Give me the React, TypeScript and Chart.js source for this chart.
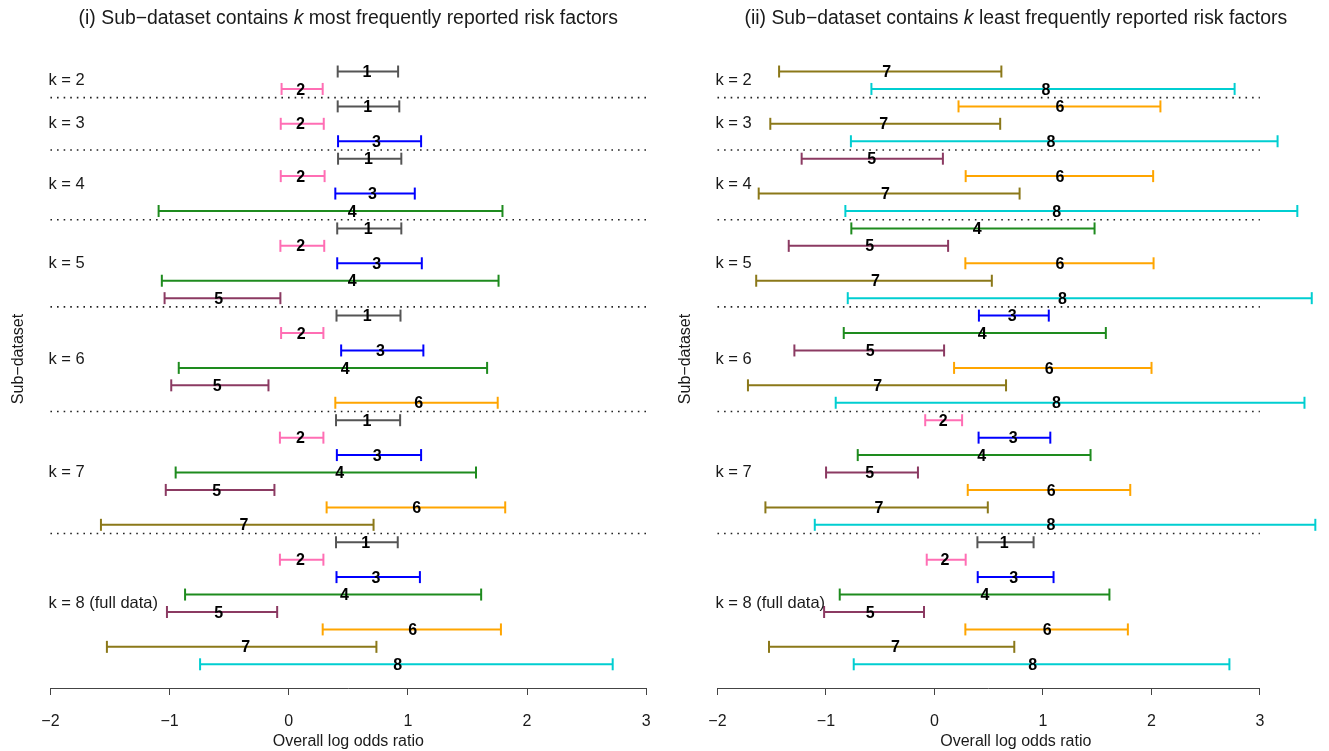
import React, { useEffect, useRef } from "react";
import { Chart, registerables } from "chart.js";

Chart.register(...registerables);

const FONT = '"Liberation Sans", Arial, Helvetica, sans-serif';

// ---------- data ----------
const groupSizes = [2, 3, 4, 5, 6, 7, 8];
const groupLabels = ["k = 2", "k = 3", "k = 4", "k = 5", "k = 6", "k = 7", "k = 8 (full data)"];
const xTicks = [-2, -1, 0, 1, 2, 3];

const factorColors: Record<number, string> = {
  1: "#555555",
  2: "#FF6EB4",
  3: "#0000FF",
  4: "#1E8B1E",
  5: "#8B3A62",
  6: "#FFA500",
  7: "#8B7819",
  8: "#00CED1",
};

// Panel (i): k most frequently reported risk factors
const mostFactor = [
  1, 2,
  1, 2, 3,
  1, 2, 3, 4,
  1, 2, 3, 4, 5,
  1, 2, 3, 4, 5, 6,
  1, 2, 3, 4, 5, 6, 7,
  1, 2, 3, 4, 5, 6, 7, 8,
];
const mostLow = [
  0.411, -0.060,
  0.411, -0.067, 0.414,
  0.414, -0.067, 0.391, -1.092,
  0.407, -0.070, 0.407, -1.065, -1.042,
  0.401, -0.064, 0.440, -0.923, -0.986, 0.391,
  0.397, -0.074, 0.404, -0.949, -1.032, 0.318, -1.576,
  0.397, -0.074, 0.401, -0.870, -1.022, 0.285, -1.526, -0.744,
];
const mostEst = [
  0.656, 0.101,
  0.663, 0.098, 0.736,
  0.669, 0.101, 0.703, 0.533,
  0.666, 0.101, 0.739, 0.533, -0.588,
  0.659, 0.105, 0.769, 0.474, -0.601, 1.091,
  0.656, 0.098, 0.742, 0.427, -0.604, 1.074, -0.375,
  0.646, 0.098, 0.732, 0.467, -0.588, 1.041, -0.362, 0.915,
];
const mostHigh = [
  0.918, 0.285,
  0.928, 0.294, 1.111,
  0.945, 0.301, 1.058, 1.794,
  0.945, 0.298, 1.117, 1.761, -0.070,
  0.938, 0.291, 1.130, 1.665, -0.170, 1.754,
  0.935, 0.291, 1.111, 1.572, -0.120, 1.817, 0.712,
  0.915, 0.291, 1.101, 1.615, -0.097, 1.781, 0.736, 2.719,
];

// Panel (ii): k least frequently reported risk factors
const leastFactor = [
  7, 8,
  6, 7, 8,
  5, 6, 7, 8,
  4, 5, 6, 7, 8,
  3, 4, 5, 6, 7, 8,
  2, 3, 4, 5, 6, 7, 8,
  1, 2, 3, 4, 5, 6, 7, 8,
];
const leastLow = [
  -1.432, -0.581,
  0.222, -1.513, -0.770,
  -1.224, 0.288, -1.620, -0.821,
  -0.766, -1.343, 0.285, -1.643, -0.799,
  0.410, -0.836, -1.291, 0.181, -1.719, -0.910,
  -0.085, 0.407, -0.707, -0.999, 0.307, -1.558, -1.103,
  0.396, -0.071, 0.399, -0.873, -1.017, 0.285, -1.525, -0.744,
];
const leastEst = [
  -0.441, 1.028,
  1.158, -0.467, 1.073,
  -0.578, 1.158, -0.452, 1.128,
  0.395, -0.596, 1.158, -0.544, 1.180,
  0.717, 0.440, -0.592, 1.058, -0.522, 1.124,
  0.081, 0.725, 0.436, -0.596, 1.076, -0.511, 1.073,
  0.643, 0.096, 0.731, 0.466, -0.592, 1.039, -0.359, 0.906,
];
const leastHigh = [
  0.617, 2.767,
  2.083, 0.606, 3.163,
  0.078, 2.016, 0.785, 3.345,
  1.476, 0.126, 2.020, 0.529, 3.478,
  1.054, 1.580, 0.089, 2.001, 0.660, 3.411,
  0.255, 1.068, 1.439, -0.152, 1.805, 0.492, 3.511,
  0.914, 0.288, 1.098, 1.613, -0.096, 1.783, 0.736, 2.719,
];

// ---------- helpers ----------
type Panel = {
  factors: number[];
  low: number[];
  est: number[];
  high: number[];
  titleA: string;
  titleB: string;
  xMin: number;
  xMax: number;
  padLeft: number;
  yTitleX: number;
};

const fmtTick = (v: number) => (v < 0 ? "\u2212" + Math.abs(v) : String(v));

function groupInfo() {
  const out: { start: number; end: number }[] = [];
  let s = 0;
  groupSizes.forEach((n) => {
    out.push({ start: s, end: s + n - 1 });
    s += n;
  });
  return out;
}

function makePlugin(p: Panel) {
  return {
    id: "annot",
    afterDatasetsDraw(chart: any) {
      const { ctx, chartArea } = chart;
      const x = chart.scales.x;
      const y = chart.scales.y;
      ctx.save();
      // axis line between first and last ticks
      ctx.strokeStyle = "#444";
      ctx.lineWidth = 1;
      const yb = Math.round(chartArea.bottom) + 0.5;
      ctx.beginPath();
      ctx.moveTo(x.getPixelForValue(xTicks[0]), yb);
      ctx.lineTo(x.getPixelForValue(xTicks[xTicks.length - 1]), yb);
      ctx.stroke();

      // factor numbers at estimates
      ctx.font = `bold 16px ${FONT}`;
      ctx.fillStyle = "#000";
      ctx.textAlign = "center";
      ctx.textBaseline = "middle";
      p.factors.forEach((f, i) => {
        ctx.fillText(String(f), x.getPixelForValue(p.est[i]), y.getPixelForValue(i) + 1.2);
      });

      // group labels
      ctx.font = `16.5px ${FONT}`;
      ctx.fillStyle = "#1a1a1a";
      ctx.textAlign = "left";
      groupInfo().forEach((g, gi) => {
        ctx.fillText(groupLabels[gi], x.getPixelForValue(-2) - 2, y.getPixelForValue((g.start + g.end) / 2));
      });

      // main title with italic k
      const cx = (chartArea.left + chartArea.right) / 2;
      const normal = `19.4px ${FONT}`;
      const ital = `italic 19.4px ${FONT}`;
      ctx.font = normal;
      const wA = ctx.measureText(p.titleA).width;
      const wB = ctx.measureText(p.titleB).width;
      ctx.font = ital;
      const wK = ctx.measureText("k").width;
      const total = wA + wK + wB;
      let tx = cx - total / 2;
      const ty = 19;
      ctx.fillStyle = "#1a1a1a";
      ctx.font = normal;
      ctx.fillText(p.titleA, tx, ty);
      tx += wA;
      ctx.font = ital;
      ctx.fillText("k", tx, ty);
      tx += wK;
      ctx.font = normal;
      ctx.fillText(p.titleB, tx, ty);

      // y-axis title
      ctx.font = `16px ${FONT}`;
      ctx.textAlign = "center";
      ctx.translate(p.yTitleX, 359);
      ctx.rotate(-Math.PI / 2);
      ctx.fillText("Sub\u2212dataset", 0, 0);
      ctx.restore();
    },
  };
}

function makeConfig(p: Panel): any {
  const datasets: any[] = [];
  const groups = groupInfo();
  groups.slice(0, groups.length - 1).forEach((g) => {
    const yy = g.end + 0.5;
    datasets.push({
      data: [
        { x: xTicks[0], y: yy },
        { x: xTicks[xTicks.length - 1], y: yy },
      ],
      showLine: true,
      borderColor: "#222",
      borderWidth: 1.6,
      borderDash: [1.6, 5],
      pointRadius: 0,
      pointHoverRadius: 0,
      fill: false,
    });
  });
  p.factors.forEach((f, i) => {
    const c = factorColors[f];
    datasets.push({
      data: [
        { x: p.low[i], y: i },
        { x: p.high[i], y: i },
      ],
      showLine: true,
      borderColor: c,
      borderWidth: 2,
      pointStyle: "line",
      rotation: 90,
      pointRadius: 6,
      pointHoverRadius: 6,
      pointBorderColor: c,
      pointBackgroundColor: c,
      pointBorderWidth: 2,
      fill: false,
      clip: false,
    });
  });
  const nRows = p.factors.length;
  const pad = (nRows - 1) * 0.04;
  return {
    type: "scatter",
    data: { datasets },
    options: {
      animation: false,
      responsive: false,
      events: [],
      layout: { autoPadding: false, padding: { left: p.padLeft, top: 47.8, right: 0, bottom: 0 } },
      plugins: { legend: { display: false }, tooltip: { enabled: false } },
      scales: {
        x: {
          type: "linear",
          min: p.xMin,
          max: p.xMax,
          afterBuildTicks: (s: any) => {
            s.ticks = xTicks.map((v) => ({ value: v }));
          },
          afterFit: (s: any) => {
            s.height = 63;
            s.paddingLeft = 0;
            s.paddingRight = 0;
          },
          border: { display: false },
          grid: {
            drawOnChartArea: false,
            drawTicks: true,
            tickLength: 7,
            color: "#444",
            lineWidth: 1,
          },
          ticks: {
            padding: 17,
            autoSkip: false,
            maxRotation: 0,
            color: "#1a1a1a",
            font: { family: FONT, size: 16 },
            callback: (v: any) => fmtTick(Number(v)),
          },
          title: {
            display: true,
            text: "Overall log odds ratio",
            color: "#1a1a1a",
            font: { family: FONT, size: 16 },
            padding: { top: 0, bottom: 0 },
          },
        },
        y: {
          type: "linear",
          display: false,
          reverse: true,
          min: -pad,
          max: nRows - 1 + pad,
        },
      },
    },
    plugins: [makePlugin(p)],
  };
}

const leftPanel: Panel = {
  factors: mostFactor,
  low: mostLow,
  est: mostEst,
  high: mostHigh,
  titleA: "(i) Sub\u2212dataset contains ",
  titleB: " most frequently reported risk factors",
  xMin: -2.2,
  xMax: 3.2,
  padLeft: 26.6,
  yTitleX: 18.5,
};

const rightPanel: Panel = {
  factors: leastFactor,
  low: leastLow,
  est: leastEst,
  high: leastHigh,
  titleA: "(ii) Sub\u2212dataset contains ",
  titleB: " least frequently reported risk factors",
  xMin: -2.22,
  xMax: 3.72,
  padLeft: 23.6,
  yTitleX: 15.3,
};

function PanelChart({ panel, left, width }: { panel: Panel; left: number; width: number }) {
  const ref = useRef<HTMLCanvasElement | null>(null);
  useEffect(() => {
    if (!ref.current) return;
    const chart = new Chart(ref.current, makeConfig(panel));
    return () => chart.destroy();
  }, [panel]);
  return (
    <canvas
      ref={ref}
      width={width}
      height={751}
      style={{ position: "absolute", left, top: 0, width, height: 751 }}
    />
  );
}

export default function App() {
  return (
    <div
      style={{
        position: "absolute",
        left: 0,
        top: 0,
        width: 1329,
        height: 751,
        overflow: "hidden",
        background: "#fff",
      }}
    >
      <PanelChart panel={leftPanel} left={0} width={670} />
      <PanelChart panel={rightPanel} left={670} width={668} />
    </div>
  );
}
